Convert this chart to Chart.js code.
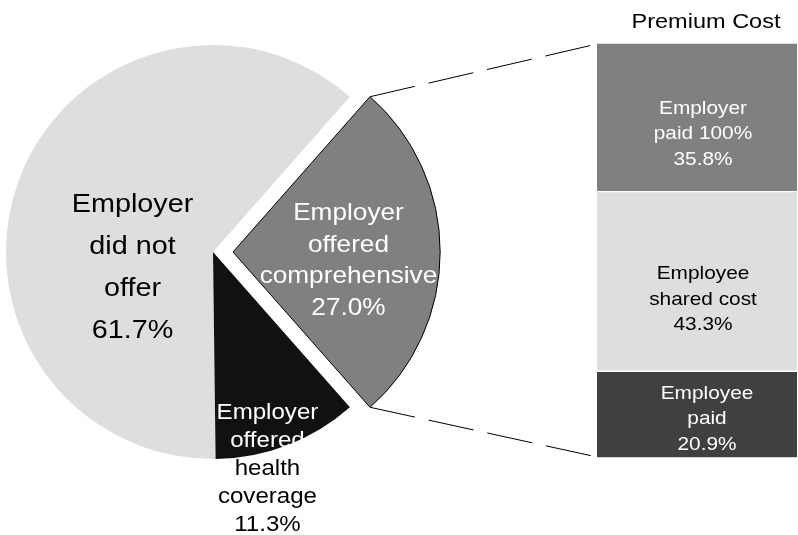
<!DOCTYPE html>
<html><head><meta charset="utf-8">
<script src="https://cdn.jsdelivr.net/npm/chart.js@4.4.1/dist/chart.umd.min.js"></script>
<style>
html,body{margin:0;padding:0;background:#fff;}
#wrap{position:relative;width:798px;height:535px;background:#fff;}
#wrap canvas{position:absolute;left:0;top:0;}
</style></head><body>
<div id="wrap"><canvas id="pie" width="798" height="535"></canvas><canvas id="bar" width="798" height="535"></canvas></div>
<script>
// ---- data ----
const pieCategories = [["Employer","did not","offer"],["Employer","offered","comprehensive"],["Employer","offered","health","coverage"]];
const pieValues = [61.7, 27.0, 11.3];
const pieColors = ['#dedede', '#808080', '#111111'];
const splitIndex = 1;
const barCategories = [["Employee","paid"],["Employee","shared cost"],["Employer","paid 100%"]];
const barValues = [20.9, 43.3, 35.8];
const barColors = ['#404040', '#dedede', '#808080'];
const barTitle = 'Premium Cost';

const FONT = '"Liberation Sans", Arial, sans-serif';
const STRETCH = 1.12;

function drawLines(ctx, lines, x, y, size, lh, colors) {
  const n = lines.length;
  ctx.save();
  ctx.font = size + 'px ' + FONT;
  ctx.textAlign = 'center';
  ctx.textBaseline = 'alphabetic';
  lines.forEach((t, i) => {
    const capC = y + (i - (n - 1) / 2) * lh;
    const base = capC + 0.358 * size;
    ctx.save();
    ctx.translate(x, base);
    ctx.scale(STRETCH, 1);
    ctx.fillStyle = Array.isArray(colors) ? colors[i] : colors;
    ctx.fillText(t, 0, 0);
    ctx.restore();
  });
  ctx.restore();
}

function explodedGeom(arc) {
  const p = arc.getProps(['x', 'y', 'startAngle', 'endAngle', 'outerRadius', 'circumference'], true);
  const o = arc.options.offset || 0;
  const half = (p.startAngle + p.endAngle) / 2;
  const fix = 1 - Math.sin(Math.min(Math.PI, p.circumference || 0));
  const t = o / 4 * (1 + fix);
  return {cx: p.x + Math.cos(half) * t, cy: p.y + Math.sin(half) * t, r: p.outerRadius, a0: p.startAngle, a1: p.endAngle};
}

const pieLabelPlugin = {
  id: 'pieLabels',
  afterDatasetsDraw(chart, args, opts) {
    const ctx = chart.ctx;
    chart.getDatasetMeta(0).data.forEach((arc, i) => {
      const g = explodedGeom(arc);
      const st = opts.styles[i];
      const lines = [...pieCategories[i], pieValues[i].toFixed(1) + '%'];
      drawLines(ctx, lines, g.cx + st.fx * g.r, g.cy + st.fy * g.r, st.size, st.lh, st.colors);
    });
  }
};

const total = pieValues.reduce((a, b) => a + b, 0);
const before = pieValues.slice(0, splitIndex).reduce((a, b) => a + b, 0);
const pieRotation = 90 - (before + pieValues[splitIndex] / 2) / total * 360;

const pieChart = new Chart(document.getElementById('pie'), {
  type: 'pie',
  data: {
    labels: pieCategories.map(c => c.join(' ')),
    datasets: [{
      data: pieValues,
      backgroundColor: pieColors,
      borderColor: '#000000',
      borderWidth: pieValues.map((v, i) => i === splitIndex ? 1 : 0),
      offset: pieValues.map((v, i) => i === splitIndex ? 80 : 0)
    }]
  },
  options: {
    responsive: false,
    animation: false,
    radius: 207,
    rotation: pieRotation,
    layout: {padding: {left: 0, top: 0, right: 372, bottom: 31}},
    plugins: {
      legend: {display: false},
      tooltip: {enabled: false},
      pieLabels: {
        styles: [
          {fx: -0.389, fy: 0.067, size: 25.7, lh: 42, colors: '#000000'},
          {fx: 0.557, fy: 0.034, size: 23.4, lh: 31.7, colors: '#ffffff'},
          {fx: 0.263, fy: 1.041, size: 21.5, lh: 28, colors: ['#ffffff', '#ffffff', '#000000', '#000000', '#000000']}
        ]
      }
    }
  },
  plugins: [pieLabelPlugin]
});

const barDecorPlugin = {
  id: 'barDecor',
  afterDatasetsDraw(chart, args, opts) {
    const ctx = chart.ctx;
    const n = chart.data.datasets.length;
    const bottomEl = chart.getDatasetMeta(0).data[0];
    const topEl = chart.getDatasetMeta(n - 1).data[0];
    const left = bottomEl.x - bottomEl.width / 2;
    const cxBar = bottomEl.x;
    // connector lines from the split slice
    const arc = pieChart.getDatasetMeta(0).data[splitIndex];
    const g = explodedGeom(arc);
    const p0 = {x: g.cx + Math.cos(g.a0) * g.r, y: g.cy + Math.sin(g.a0) * g.r};
    const p1 = {x: g.cx + Math.cos(g.a1) * g.r, y: g.cy + Math.sin(g.a1) * g.r};
    ctx.save();
    ctx.strokeStyle = '#000000';
    ctx.lineWidth = 1;
    ctx.setLineDash([46, 14]);
    ctx.beginPath();
    ctx.moveTo(p0.x, p0.y); ctx.lineTo(left, topEl.y + 1);
    ctx.moveTo(p1.x, p1.y); ctx.lineTo(left, bottomEl.base - 1);
    ctx.stroke();
    ctx.restore();
    // segment labels
    chart.data.datasets.forEach((ds, i) => {
      const el = chart.getDatasetMeta(i).data[0];
      const st = opts.styles[i];
      const lines = [...barCategories[i], barValues[i].toFixed(1) + '%'];
      drawLines(ctx, lines, el.x + st.dx, (el.y + el.base) / 2 + st.dy, 18.6, 25.7, st.color);
    });
    // title
    drawLines(ctx, [barTitle], cxBar + opts.titleDx, topEl.y - opts.titleGap, 21, 0, '#000000');
  }
};

new Chart(document.getElementById('bar'), {
  type: 'bar',
  data: {
    labels: [barTitle],
    datasets: barValues.map((v, i) => ({
      label: barCategories[i].join(' '),
      data: [v],
      backgroundColor: barColors[i],
      borderColor: '#ffffff',
      borderWidth: {top: 1, bottom: 1, left: 0, right: 0},
      borderSkipped: false,
      barPercentage: 1,
      categoryPercentage: 1
    }))
  },
  options: {
    responsive: false,
    animation: false,
    layout: {padding: {left: 597, right: 1, top: 43, bottom: 77}},
    scales: {
      x: {stacked: true, display: false},
      y: {stacked: true, display: false, min: 0, max: 100}
    },
    plugins: {
      legend: {display: false},
      tooltip: {enabled: false},
      barDecor: {
        titleDx: 9,
        titleGap: 23,
        styles: [
          {dx: 10, dy: 3, color: '#ffffff'},
          {dx: 6, dy: 16.5, color: '#000000'},
          {dx: 6, dy: 15.5, color: '#ffffff'}
        ]
      }
    }
  },
  plugins: [barDecorPlugin]
});
</script>
</body></html>
